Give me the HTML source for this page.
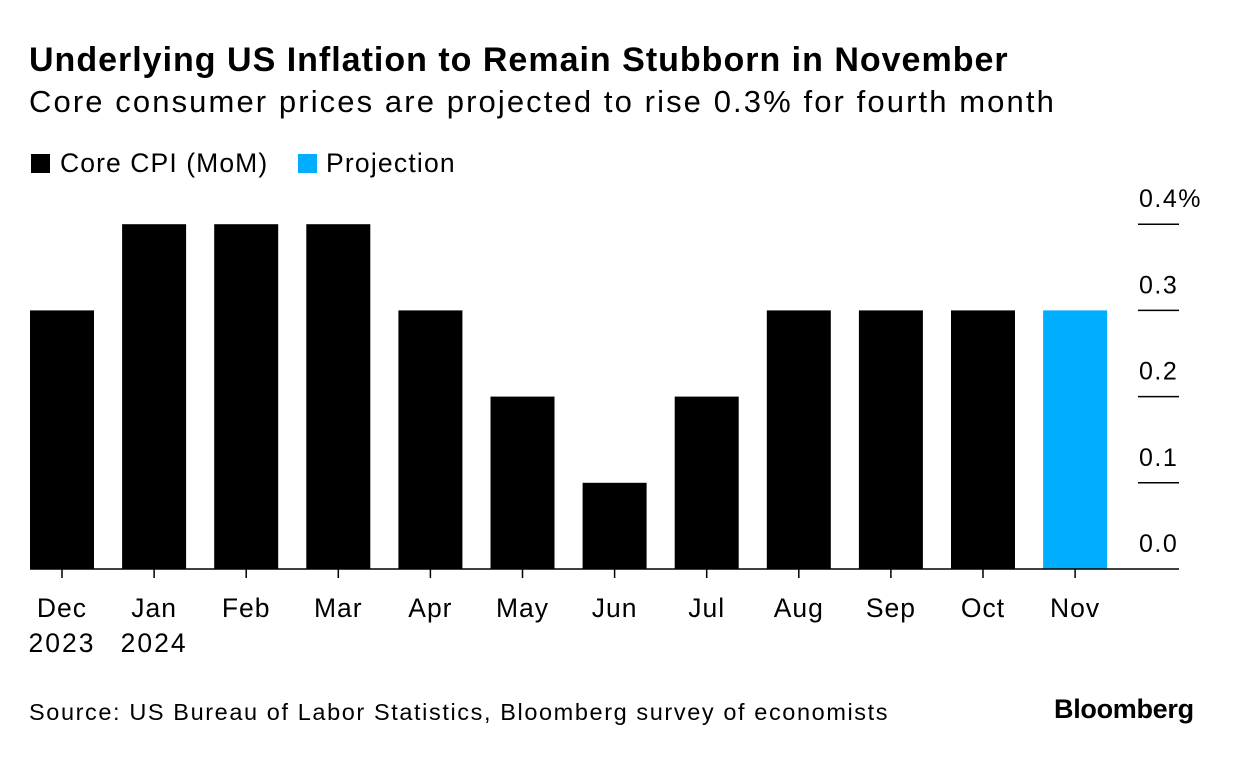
<!DOCTYPE html>
<html><head><meta charset="utf-8"><style>
body{margin:0;background:#fff;font-family:"Liberation Sans",sans-serif;}
#wrap{position:relative;width:1233px;height:770px;overflow:hidden;}
.t{position:absolute;white-space:nowrap;color:#000;}
</style></head><body>
<div id="wrap">
<div class="t" style="left:29px;top:41px;font-size:34px;font-weight:bold;letter-spacing:1.0px">Underlying US Inflation to Remain Stubborn in November</div>
<div class="t" style="left:29px;top:84px;font-size:31px;letter-spacing:2.1px">Core consumer prices are projected to rise 0.3% for fourth month</div>
<div class="t" style="left:31px;top:148px;font-size:26.5px;letter-spacing:1.1px"><span style="display:inline-block;width:19px;height:19px;background:#000;vertical-align:-1px;margin-right:10px"></span>Core CPI (MoM)</div>
<div class="t" style="left:298px;top:148px;font-size:26.5px;letter-spacing:1.2px"><span style="display:inline-block;width:19px;height:19px;background:#00aeff;vertical-align:-1px;margin-right:9px"></span>Projection</div>
<svg id="chart" width="1233" height="770" style="position:absolute;left:0;top:0"></svg>
<div class="t" style="left:29px;top:699px;font-size:23.5px;letter-spacing:1.6px">Source: US Bureau of Labor Statistics, Bloomberg survey of economists</div>
<div class="t" style="left:1054px;top:694px;font-size:27px;font-weight:bold;letter-spacing:-0.3px">Bloomberg</div>
</div>
<script>
const categories=["Dec","Jan","Feb","Mar","Apr","May","Jun","Jul","Aug","Sep","Oct","Nov"];
const yearLabels=["2023","2024","","","","","","","","","",""];
const values=[0.3,0.4,0.4,0.4,0.3,0.2,0.1,0.2,0.3,0.3,0.3,0.3];
const isProjection=[false,false,false,false,false,false,false,false,false,false,false,true];
const yTicks=[0,0.1,0.2,0.3,0.4];
const yTickLabels=["0.0","0.1","0.2","0.3","0.4%"];
const NS="http://www.w3.org/2000/svg";
const svg=document.getElementById('chart');
const x0=30,step=92.1,bw=64,base=569,pxPer=862;
const xScale=i=>x0+i*step;
const yScale=v=>base-v*pxPer;
function mk(t,a){const e=document.createElementNS(NS,t);for(const k in a)e.setAttribute(k,a[k]);svg.appendChild(e);return e;}
values.forEach((v,i)=>{
 const r=mk('rect',{x:xScale(i),y:yScale(v),width:bw,height:base-yScale(v),fill:isProjection[i]?'#00aeff':'#000'});
 
 
 const tk=mk('line',{x1:xScale(i)+bw/2,x2:xScale(i)+bw/2,y1:base,y2:base+9,stroke:'#000','stroke-width':1.5});
 
 
 const tx=mk('text',{x:xScale(i)+bw/2,y:617,'text-anchor':'middle','font-size':26.5,'letter-spacing':1,'font-family':'Liberation Sans, sans-serif'});
 tx.textContent=categories[i];
 
 
 if(yearLabels[i]){
  const ty=mk('text',{x:xScale(i)+bw/2,y:652,'text-anchor':'middle','font-size':26.5,'letter-spacing':2,'font-family':'Liberation Sans, sans-serif'});
  ty.textContent=yearLabels[i];
  
  
 }
});
yTicks.forEach((v,i)=>{
 if(v>0){const l=mk('line',{x1:1138,x2:1179,y1:yScale(v),y2:yScale(v),stroke:'#000','stroke-width':1.5});
 
 }
 const t=mk('text',{x:1139,y:yScale(v)-17,'font-size':25,'letter-spacing':1.5,'font-family':'Liberation Sans, sans-serif'});
 t.textContent=yTickLabels[i];
 
 
});
const ax=mk('line',{x1:30,x2:1179,y1:base,y2:base,stroke:'#000','stroke-width':1.5});


</script>
</body></html>
